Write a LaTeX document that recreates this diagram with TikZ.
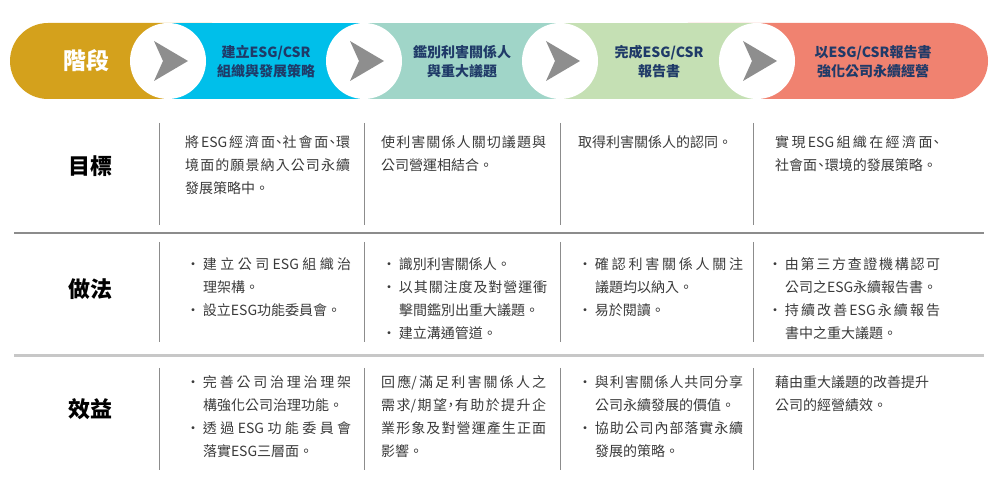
\documentclass[tikz,border=0pt]{standalone}
\usepackage{fontspec}
\setmainfont{Noto Sans CJK TC}
\XeTeXlinebreaklocale "zh"
\XeTeXlinebreakskip=0pt plus 3pt

\definecolor{stagegold}{HTML}{D4A11C}
\definecolor{stagecyan}{HTML}{00BFEA}
\definecolor{stageteal}{HTML}{A0D5C8}
\definecolor{stagegreen}{HTML}{C5E0B4}
\definecolor{stagered}{HTML}{F08270}
\definecolor{headblue}{HTML}{1F3A68}
\definecolor{bodygray}{HTML}{3A3A3A}
\definecolor{rulegray}{HTML}{8C8C8C}
\definecolor{arrowgray}{HTML}{8E8E8E}

\newcommand{\dotitem}{\hangindent=1.2em\hangafter=1\makebox[1.2em][l]{・}}
\newcommand{\dun}{\makebox[0.55em]{、}}
\newcommand{\dou}{\makebox[0.55em]{，}}

\begin{document}
\begin{tikzpicture}[x=1pt,y=1pt,
    head/.style={align=center, text=headblue, font=\fontsize{14}{19}\selectfont\bfseries},
    rowlabel/.style={font=\fontsize{22}{22}\selectfont\bfseries},
    cell/.style={anchor=base west, inner sep=0pt, text width=165pt, align=justify, text=bodygray, font=\fontsize{14}{23}\selectfont},
    sep/.style={draw=rulegray, line width=1pt}]
    \useasboundingbox (0,0) rectangle (1000,494);

    % banner
    \fill[stagegold, rounded corners=38pt] (10,395) rectangle (250,471);
    \fill[stagered, rounded corners=38pt] (650,395) rectangle (988,471);
    \fill[stagecyan] (168,395) rectangle (364,471);
    \fill[stageteal] (364,395) rectangle (560,471);
    \fill[stagegreen] (560,395) rectangle (757,471);
    \foreach \cx [count=\i] in {168,364,560,757} {
        \node[circle, fill=white, minimum size=76pt, inner sep=0pt] (ring\i) at (\cx,433) {};
        \fill[arrowgray] (\cx-14,453) -- (\cx+20,433) -- (\cx-14,413) -- (\cx-5,433) -- cycle;
    }

    \node[font=\fontsize{23}{23}\selectfont\bfseries, text=white] (stage0) at (86,433) {階段};
    \node[head] (stage1) at (266,432) {建立ESG/CSR\\組織與發展策略};
    \node[head] (stage2) at (462,432) {鑑別利害關係人\\與重大議題};
    \node[head] (stage3) at (659,432) {完成ESG/CSR\\報告書};
    \node[head] (stage4) at (873,432) {以ESG/CSR報告書\\強化公司永續經營};

    % rows
    \node[rowlabel] (aim) at (90,328) {目標};
    \node[rowlabel] (way) at (90,205) {做法};
    \node[rowlabel] (gain) at (90,85) {效益};

    \foreach \x in {159,364,560,753} {
        \draw[sep] (\x,371) -- (\x,269);
        \draw[sep] (\x,252) -- (\x,152);
        \draw[sep] (\x,126) -- (\x,24);
    }
    \draw[rulegray, line width=1.5pt] (14,261) -- (984,261);
    \draw[black!22, line width=3pt] (14,138) -- (984,138);

    \node[cell] (aim1) at (185,346) {將ESG經濟面\dun 社會面\dun 環\linebreak 境面的願景納入公司永續\linebreak 發展策略中。\par};
    \node[cell] (aim2) at (381,346) {使利害關係人關切議題與\linebreak 公司營運相結合。\par};
    \node[cell] (aim3) at (578,346) {取得利害關係人的認同。\par};
    \node[cell] (aim4) at (775,346) {實現ESG組織在經濟面\dun\linebreak 社會面\dun 環境的發展策略。\par};

    \node[cell] (way1) at (186,224) {\dotitem 建立公司ESG組織治\linebreak 理架構。\par\dotitem 設立ESG功能委員會。\par};
    \node[cell] (way2) at (382,224) {\dotitem 識別利害關係人。\par\dotitem 以其關注度及對營運衝\linebreak 擊間鑑別出重大議題。\par\dotitem 建立溝通管道。\par};
    \node[cell] (way3) at (578,224) {\dotitem 確認利害關係人關注\linebreak 議題均以納入。\par\dotitem 易於閱讀。\par};
    \node[cell, text width=172pt] (way4) at (768,224) {\dotitem 由第三方查證機構認可\linebreak 公司之ESG永續報告書。\par\dotitem 持續改善ESG永續報告\linebreak 書中之重大議題。\par};

    \node[cell] (gain1) at (186,106) {\dotitem 完善公司治理治理架\linebreak 構強化公司治理功能。\par\dotitem 透過ESG功能委員會\linebreak 落實ESG三層面。\par};
    \node[cell] (gain2) at (381,106) {回應/滿足利害關係人之\linebreak 需求/期望\dou 有助於提升企\linebreak 業形象及對營運產生正面\linebreak 影響。\par};
    \node[cell] (gain3) at (578,106) {\dotitem 與利害關係人共同分享\linebreak 公司永續發展的價值。\par\dotitem 協助公司內部落實永續\linebreak 發展的策略。\par};
    \node[cell] (gain4) at (775,106) {藉由重大議題的改善提升\newline 公司的經營績效。\par};
\end{tikzpicture}
\end{document}
